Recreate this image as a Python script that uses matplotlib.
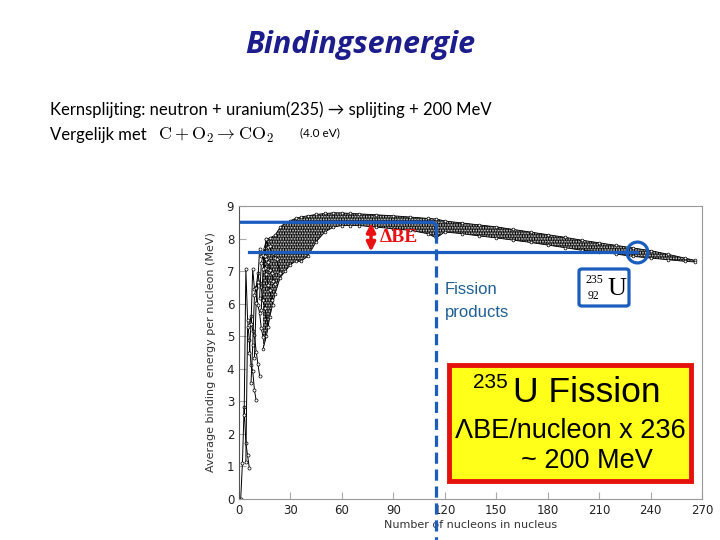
import matplotlib.pyplot as plt
from matplotlib.patches import Rectangle, FancyBboxPatch

plt.rcParams['mathtext.fontset'] = 'cm'
plt.rcParams['hatch.linewidth'] = 0.7

# light nuclei, one chain per element (A, binding energy per nucleon in MeV)
light_chains = [
    ([1, 2, 3, 4, 5, 6], [0.0, 1.11, 2.83, 1.72, 1.34, 0.96]),
    ([3, 4, 5, 6, 7, 8, 9, 10], [2.57, 7.07, 5.51, 4.88, 4.12, 3.93, 3.35, 3.03]),
    ([4, 5, 6, 7, 8, 9, 10, 11, 12], [1.15, 5.27, 5.33, 5.61, 5.16, 5.04, 4.53, 4.16, 3.79]),
    ([6, 7, 8, 9, 10, 11, 12, 13, 14], [4.49, 5.37, 7.06, 6.46, 6.50, 5.95, 5.72, 5.24, 4.99]),
    ([7, 8, 9, 10, 11, 12, 13, 14, 15, 17], [3.56, 4.72, 6.26, 6.48, 6.93, 6.63, 6.50, 6.10, 5.88, 5.27]),
    ([9, 10, 11, 12, 13, 14, 15, 16, 17, 18, 19, 20], [4.34, 6.03, 6.68, 7.68, 7.47, 7.52, 7.10, 6.92, 6.56, 6.43, 6.12, 5.96]),
    ([12, 13, 14, 15, 16, 17, 18, 19, 20, 21], [6.17, 7.24, 7.48, 7.70, 7.37, 7.29, 7.04, 6.95, 6.71, 6.61]),
    ([13, 14, 15, 16, 17, 18, 19, 20, 21, 22, 24], [5.81, 7.05, 7.46, 7.98, 7.75, 7.77, 7.57, 7.57, 7.39, 7.36, 6.93]),
]

# envelope of the dense band of heavier nuclei
band_a = [14, 16, 18, 21, 24, 27, 30, 33, 36, 40, 45, 50, 55, 60, 65, 70, 80, 90, 100, 110,
          115, 120, 130, 140, 150, 160, 170, 180, 190, 200, 210, 220, 230, 240, 250, 260, 266]
band_hi = [7.55, 7.98, 8.02, 8.10, 8.35, 8.48, 8.55, 8.62, 8.66, 8.70, 8.74, 8.77, 8.79, 8.79, 8.77, 8.76,
           8.73, 8.70, 8.66, 8.62, 8.60, 8.54, 8.48, 8.42, 8.36, 8.28, 8.20, 8.12, 8.04, 7.95, 7.87,
           7.79, 7.71, 7.63, 7.52, 7.40, 7.33]
band_lo = [4.6, 5.0, 5.6, 6.3, 6.8, 7.0, 7.2, 7.3, 7.3, 7.45, 7.9, 8.2, 8.35, 8.4, 8.4, 8.4,
           8.35, 8.3, 8.25, 8.15, 8.02, 8.2, 8.15, 8.08, 8.02, 7.95, 7.88, 7.8, 7.72, 7.64, 7.6,
           7.52, 7.45, 7.4, 7.35, 7.3, 7.28]

xticks = [0, 30, 60, 90, 120, 150, 180, 210, 240, 270]
yticks = list(range(10))

blue = '#1b5cbf'
W, H = 720, 540

fig = plt.figure(figsize=(7.2, 5.4), dpi=100)


def ftext(x, y, s, **kw):
    fig.text(x / W, 1 - y / H, s, **kw)


# slide text
ftext(360, 45, 'Bindingsenergie', ha='center', va='center', fontsize=22,
      family='Open Sans', weight='bold', style='italic', color='#1c1c8c')
ftext(50, 110, 'Kernsplijting: neutron + uranium(235) \u2192 splijting + 200 MeV',
      ha='left', va='center', fontsize=12, family=['Lato', 'DejaVu Sans'])
ftext(50, 135, 'Vergelijk met', ha='left', va='center', fontsize=12, family='Lato')
ftext(158, 135, r'$\mathrm{C + O_2 \rightarrow CO_2}$', ha='left', va='center', fontsize=13)
ftext(300, 133, '(4.0 eV)', ha='left', va='center', fontsize=8.5, family='Lato')

# chart
ax = fig.add_axes([239 / W, 41 / H, 463 / W, 293 / H])
ax.set_xlim(0, 270)
ax.set_ylim(0, 9)
ax.set_xticks(xticks)
ax.set_yticks(yticks)
ax.tick_params(direction='in', length=5, color='#aaaaaa', labelsize=8.5, labelcolor='#222222')
for side in ['top', 'right', 'bottom']:
    ax.spines[side].set_color('#999999')
ax.spines['left'].set_color('#555555')
ax.set_xlabel('Number of nucleons in nucleus', fontsize=8, color='#333333', labelpad=2)
ax.set_ylabel('Average binding energy per nucleon (MeV)', fontsize=8, color='#333333', labelpad=8)

ax.fill_between(band_a, band_lo, band_hi, facecolor='#4a4a4a', edgecolor='black',
                hatch='|||||||', linewidth=0)
ax.fill_between(band_a, band_lo, band_hi, facecolor='none', edgecolor='#d0d0d0',
                hatch='......', linewidth=0)
for ys in (band_hi, band_lo):
    ax.plot(band_a, ys, '-o', color='black', lw=0.6, ms=2, mfc='white', mec='black', mew=0.5)
for a, be in light_chains:
    ax.plot(a, be, '-o', color='black', lw=0.7, ms=2.2, mfc='white', mec='black', mew=0.5)

# overlays
ax.plot([0, 113.5, 115, 115], [8.5, 8.5, 8.42, 8.2], color=blue, lw=2.3, solid_joinstyle='round')
ax.plot([6, 232], [7.58, 7.58], color=blue, lw=2.3)
ax.plot([115, 115], [8.2, -1.3], color=blue, lw=2.3, ls=(0, (3.5, 1.8)), clip_on=False)
ax.plot([232], [7.58], 'o', ms=15, mfc='none', mec=blue, mew=2.3)
ax.annotate('', xy=(77, 7.6), xytext=(77, 8.48),
            arrowprops=dict(arrowstyle='<|-|>', color='#e81010', lw=2.5, mutation_scale=13,
                            shrinkA=0, shrinkB=0))
ax.text(82, 8.02, '\u0394BE', color='#e81010', fontsize=14, family='Liberation Serif',
        weight='bold', ha='left', va='center')

ftext(445, 290, 'Fission', color='#1f5f96', fontsize=12, family='Liberation Sans', va='center')
ftext(445, 312, 'products', color='#1f5f96', fontsize=12, family='Liberation Sans', va='center')

# 235-U box
fig.patches.append(FancyBboxPatch((579 / W, 1 - 306 / H), 50 / W, 37 / H,
                                  boxstyle='round,pad=0,rounding_size=0.004',
                                  transform=fig.transFigure, facecolor='white',
                                  edgecolor=blue, lw=2.3))
ftext(594, 280, '235', fontsize=8.5, family='Liberation Serif', ha='center', va='center')
ftext(594, 296, '92', fontsize=8.5, family='Liberation Serif', ha='center', va='center')
ftext(617, 289, 'U', fontsize=19, family='Liberation Serif', ha='center', va='center')

# yellow box
fig.patches.append(Rectangle((449 / W, 1 - 481 / H), 242 / W, 116 / H, transform=fig.transFigure,
                             facecolor='#ffff1a', edgecolor='#e5120c', lw=3.5))
ftext(473, 382, '235', fontsize=15, family='Liberation Sans', ha='left', va='center')
ftext(513, 393, 'U Fission', fontsize=25.5, family='Liberation Sans', ha='left', va='center')
ftext(570, 431, '\u039bBE/nucleon x 236', fontsize=19.5, family='Liberation Sans', ha='center', va='center')
ftext(587, 461, '~ 200 MeV', fontsize=19.5, family='Liberation Sans', ha='center', va='center')

fig.savefig('out.png', dpi=100)
